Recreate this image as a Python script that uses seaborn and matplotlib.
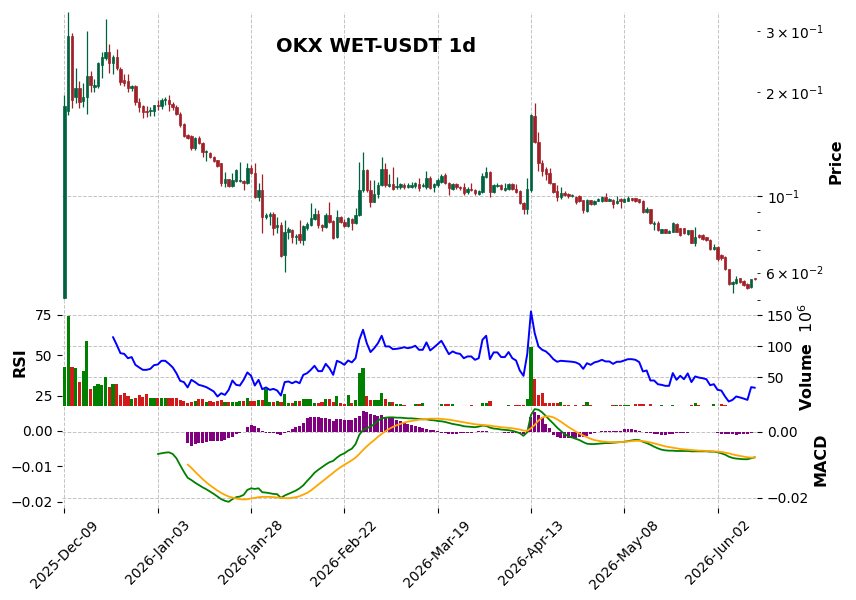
import numpy as np
import pandas as pd
import seaborn as sns
import matplotlib
matplotlib.use('Agg')
import matplotlib.pyplot as plt

# values (price in USDT, volume in millions)
first_day = '2025-12-09'

opens = [
    0.0507, 0.176, 0.290, 0.194, 0.206, 0.188, 0.194, 0.223, 0.207, 0.208,
    0.239, 0.251, 0.261, 0.242, 0.252, 0.233, 0.216, 0.215, 0.205, 0.208,
    0.187, 0.182, 0.176, 0.176, 0.176, 0.183, 0.182, 0.190, 0.190, 0.185,
    0.181, 0.1727, 0.1616, 0.1498, 0.1492, 0.1374, 0.1475, 0.1427, 0.1344, 0.1335,
    0.1300, 0.1271, 0.1243, 0.1088, 0.1117, 0.1069, 0.1108, 0.1108, 0.1108, 0.1088,
    0.1202, 0.1163, 0.0993, 0.1040, 0.0869, 0.0875, 0.0887, 0.0812, 0.0825, 0.0673,
    0.0786, 0.0800, 0.0762, 0.0776, 0.0746, 0.0808, 0.0825, 0.0860, 0.0890, 0.0826,
    0.0813, 0.0880, 0.0845, 0.0761, 0.0869, 0.0841, 0.0820, 0.0858, 0.0835, 0.0879,
    0.1040, 0.1189, 0.1041, 0.0963, 0.1013, 0.1076, 0.1195, 0.1069, 0.1083, 0.1059,
    0.1059, 0.1076, 0.1064, 0.1059, 0.1069, 0.1083, 0.1069, 0.1064, 0.1125, 0.1059,
    0.1076, 0.1100, 0.1150, 0.1093, 0.1050, 0.1083, 0.1064, 0.1059, 0.1029, 0.1045,
    0.1041, 0.1013, 0.1029, 0.1137, 0.1173, 0.1029, 0.1069, 0.1076, 0.1041, 0.1045,
    0.1083, 0.1047, 0.1036, 0.0956, 0.0915, 0.1041, 0.1704, 0.1436, 0.1243, 0.1195,
    0.1163, 0.1088, 0.1036, 0.0991, 0.1022, 0.1013, 0.1000, 0.0996, 0.1000, 0.0974,
    0.0907, 0.0974, 0.0948, 0.0969, 0.0965, 0.0991, 0.0969, 0.0974, 0.0952, 0.0978,
    0.0963, 0.0969, 0.0987, 0.0987, 0.0978, 0.0969, 0.0901, 0.0915, 0.0830, 0.0837,
    0.0783, 0.0801, 0.0783, 0.0788, 0.0830, 0.0806, 0.0806, 0.0776, 0.0797, 0.0733,
    0.0771, 0.0771, 0.0759, 0.0746, 0.0701, 0.0714, 0.0675, 0.0668, 0.0613, 0.0556,
    0.0561, 0.0578, 0.0568, 0.0558, 0.0544, 0.0578,
]
highs = [
    0.196, 0.340, 0.297, 0.235, 0.215, 0.213, 0.300, 0.230, 0.218, 0.245,
    0.262, 0.325, 0.275, 0.256, 0.266, 0.236, 0.225, 0.225, 0.210, 0.209,
    0.192, 0.184, 0.182, 0.181, 0.184, 0.190, 0.192, 0.193, 0.196, 0.187,
    0.183, 0.175, 0.163, 0.151, 0.150, 0.148, 0.149, 0.143, 0.136, 0.1345,
    0.1305, 0.1275, 0.1250, 0.1176, 0.1120, 0.1168, 0.1195, 0.1257, 0.1112, 0.1243,
    0.1229, 0.1246, 0.1090, 0.1158, 0.0895, 0.0899, 0.0899, 0.0869, 0.0840, 0.0852,
    0.0811, 0.0805, 0.0775, 0.0852, 0.0825, 0.0841, 0.0954, 0.0925, 0.0911, 0.0830,
    0.0892, 0.0960, 0.0850, 0.0911, 0.0875, 0.0858, 0.0870, 0.0862, 0.0925, 0.1254,
    0.1338, 0.1200, 0.1114, 0.1112, 0.1100, 0.1294, 0.1250, 0.1158, 0.1216, 0.1137,
    0.1090, 0.1093, 0.1090, 0.1100, 0.1100, 0.1130, 0.1090, 0.1184, 0.1140, 0.1090,
    0.1125, 0.1158, 0.1167, 0.1100, 0.1090, 0.1090, 0.1070, 0.1088, 0.1060, 0.1088,
    0.1050, 0.1040, 0.1167, 0.1210, 0.1180, 0.1080, 0.1093, 0.1080, 0.1088, 0.1090,
    0.1090, 0.1080, 0.1040, 0.0960, 0.1125, 0.1727, 0.1854, 0.1528, 0.1271, 0.1210,
    0.1202, 0.1090, 0.1076, 0.1059, 0.1036, 0.1020, 0.1015, 0.1000, 0.1005, 0.0976,
    0.0978, 0.0976, 0.0972, 0.0985, 0.1000, 0.1022, 0.0985, 0.0978, 0.1000, 0.0985,
    0.0985, 0.1000, 0.0990, 0.0990, 0.0980, 0.0972, 0.0927, 0.0918, 0.0845, 0.0845,
    0.0805, 0.0805, 0.0797, 0.0840, 0.0834, 0.0810, 0.0810, 0.0800, 0.0800, 0.0815,
    0.0775, 0.0776, 0.0762, 0.0749, 0.0726, 0.0717, 0.0678, 0.0672, 0.0616, 0.0568,
    0.0587, 0.0580, 0.0570, 0.0560, 0.0576, 0.0580,
]
lows = [
    0.0507, 0.172, 0.180, 0.186, 0.180, 0.181, 0.173, 0.200, 0.200, 0.205,
    0.220, 0.248, 0.227, 0.226, 0.232, 0.210, 0.208, 0.200, 0.201, 0.184,
    0.175, 0.168, 0.169, 0.170, 0.171, 0.178, 0.179, 0.184, 0.176, 0.178,
    0.172, 0.158, 0.148, 0.146, 0.136, 0.136, 0.141, 0.130, 0.1266, 0.129,
    0.1255, 0.1215, 0.1069, 0.1059, 0.1064, 0.1064, 0.1100, 0.1095, 0.1041, 0.1085,
    0.1155, 0.0985, 0.0970, 0.0780, 0.0860, 0.0825, 0.0771, 0.0781, 0.0665, 0.0603,
    0.0750, 0.0731, 0.0725, 0.0731, 0.0722, 0.0797, 0.0820, 0.0855, 0.0808, 0.0792,
    0.0808, 0.0835, 0.0750, 0.0755, 0.0835, 0.0815, 0.0815, 0.0797, 0.0830, 0.0875,
    0.1030, 0.1030, 0.0927, 0.0960, 0.0990, 0.1070, 0.1060, 0.1059, 0.1040, 0.1050,
    0.1050, 0.1050, 0.1055, 0.1055, 0.1055, 0.1036, 0.1060, 0.1050, 0.1050, 0.1029,
    0.1060, 0.1090, 0.1080, 0.1010, 0.1040, 0.1050, 0.1040, 0.1010, 0.1013, 0.1035,
    0.1010, 0.1005, 0.1020, 0.1130, 0.0991, 0.1020, 0.1060, 0.1040, 0.1035, 0.1040,
    0.1040, 0.1020, 0.0950, 0.0887, 0.0887, 0.1030, 0.1420, 0.1184, 0.1143, 0.1112,
    0.1080, 0.1020, 0.0967, 0.0980, 0.1000, 0.0985, 0.0995, 0.0950, 0.0960, 0.0891,
    0.0900, 0.0940, 0.0945, 0.0965, 0.0960, 0.0965, 0.0965, 0.0921, 0.0948, 0.0921,
    0.0960, 0.0965, 0.0970, 0.0960, 0.0955, 0.0891, 0.0895, 0.0830, 0.0797, 0.0790,
    0.0780, 0.0780, 0.0780, 0.0785, 0.0785, 0.0768, 0.0776, 0.0770, 0.0730, 0.0717,
    0.0755, 0.0745, 0.0742, 0.0697, 0.0697, 0.0650, 0.0655, 0.0610, 0.0553, 0.0523,
    0.0558, 0.0560, 0.0550, 0.0538, 0.0540, 0.0570,
]
closes = [
    0.182, 0.290, 0.190, 0.206, 0.187, 0.194, 0.222, 0.209, 0.209, 0.242,
    0.253, 0.261, 0.242, 0.252, 0.234, 0.214, 0.212, 0.205, 0.208, 0.187,
    0.181, 0.175, 0.1755, 0.178, 0.183, 0.1825, 0.190, 0.1905, 0.185, 0.181,
    0.173, 0.1606, 0.1492, 0.1475, 0.1374, 0.1469, 0.1420, 0.1344, 0.1350, 0.1294,
    0.1266, 0.1221, 0.1088, 0.1117, 0.1069, 0.1112, 0.1189, 0.1112, 0.1093, 0.1202,
    0.1163, 0.0996, 0.1040, 0.0869, 0.0880, 0.0887, 0.0808, 0.0825, 0.0670, 0.0786,
    0.0802, 0.0761, 0.0768, 0.0746, 0.0819, 0.0830, 0.0864, 0.0890, 0.0825, 0.0813,
    0.0880, 0.0841, 0.0756, 0.0869, 0.0841, 0.0819, 0.0864, 0.0835, 0.0879, 0.1040,
    0.1189, 0.1041, 0.0963, 0.1013, 0.1076, 0.1195, 0.1076, 0.1083, 0.1045, 0.1069,
    0.1083, 0.1064, 0.1076, 0.1076, 0.1088, 0.1052, 0.1076, 0.1125, 0.1057, 0.1083,
    0.1112, 0.1143, 0.1093, 0.1052, 0.1083, 0.1059, 0.1052, 0.1022, 0.1047, 0.1041,
    0.1018, 0.1036, 0.1143, 0.1173, 0.1029, 0.1073, 0.1076, 0.1045, 0.1052, 0.1083,
    0.1045, 0.1029, 0.0956, 0.0915, 0.1047, 0.1716, 0.1436, 0.1243, 0.1184, 0.1158,
    0.1088, 0.1029, 0.0996, 0.1022, 0.1007, 0.1002, 0.1007, 0.0963, 0.0969, 0.0911,
    0.0974, 0.0948, 0.0969, 0.0982, 0.0996, 0.0969, 0.0978, 0.0948, 0.0969, 0.0969,
    0.0982, 0.0989, 0.0974, 0.0969, 0.0963, 0.0901, 0.0915, 0.0834, 0.0837, 0.0797,
    0.0801, 0.0783, 0.0793, 0.0837, 0.0788, 0.0771, 0.0780, 0.0797, 0.0733, 0.0759,
    0.0759, 0.0749, 0.0746, 0.0701, 0.0714, 0.0656, 0.0660, 0.0613, 0.0556, 0.0565,
    0.0574, 0.0565, 0.0553, 0.0541, 0.0574, 0.0574,
]
volumes = [
    65.6, 148, 65.6, 64, 42.4, 60, 108, 30.6, 35.5, 38.7,
    37, 50.5, 33.3, 38.7, 38.7, 21, 24.7, 19.4, 15, 16,
    21, 18.5, 22.6, 16, 16, 16, 16, 16, 16, 15.5,
    15.5, 12.9, 11.3, 8.6, 10.2, 11.3, 15, 15, 10.2, 11.3,
    10.2, 11.3, 12.9, 10.2, 10.2, 10.2, 10.2, 12, 11.3, 16.1,
    11.3, 12, 12.9, 12.9, 30, 10.2, 10.2, 12, 10.2, 22,
    7.5, 7.5, 12, 12, 15, 15, 15, 7.5, 7.5, 10.2,
    15, 14, 10.2, 19.4, 7.5, 6.5, 21, 7.5, 13, 57,
    64, 19.4, 12.9, 12.9, 12.9, 23.7, 14, 9.5, 9.5, 6.5,
    5.9, 4.8, 4, 2, 6, 6, 7.5, 2, 2, 2,
    2, 6, 6, 6, 6, 2, 2, 2, 2, 5,
    2, 2, 7.5, 7.5, 11.3, 2, 2, 2, 2, 5,
    2, 5.5, 5.5, 5.5, 14.5, 98, 46, 21, 23.7, 8.6,
    7.5, 8.6, 7.5, 9, 5.5, 5.5, 2, 5, 2, 5,
    9, 4.5, 2, 2, 4, 4, 2, 5, 5.5, 5.5,
    5.5, 5.5, 2, 7, 7, 7, 2, 6, 2, 2,
    5, 2, 2, 5, 2, 2, 2, 2, 5, 7.5,
    5, 2, 2, 2, 6, 2, 6, 5, 2, 2,
    2, 2, 2, 2, 2, 2,
]

rsi_from = 13
rsi = [
    61.3, 56.5, 51.3, 50.9, 48.2, 48.9, 44.1, 42.5, 41.0, 41.0,
    41.6, 43.9, 44.3, 46.6, 46.6, 44.7, 42.5, 38.9, 34.2, 33.4,
    30.1, 34.8, 33.4, 31.7, 31.1, 30.3, 29.0, 27.6, 24.5, 26.5,
    25.5, 28.6, 34.4, 31.7, 31.3, 34.8, 39.4, 37.3, 31.3, 34.8,
    29.0, 30.1, 28.6, 29.2, 28.2, 25.1, 33.4, 33.8, 32.7, 33.8,
    32.7, 37.9, 38.9, 41.0, 43.5, 40.2, 40.2, 44.7, 42.0, 37.9,
    46.6, 45.6, 44.1, 46.8, 45.6, 48.2, 59.6, 65.8, 57.5, 52.0,
    54.4, 57.5, 62.1, 55.5, 55.5, 53.8, 54.0, 54.4, 55.0, 54.4,
    54.9, 55.9, 53.4, 53.4, 58.0, 53.0, 54.9, 56.9, 59.0, 54.9,
    50.7, 52.4, 51.3, 50.9, 48.2, 49.3, 49.3, 47.2, 48.2, 59.6,
    62.1, 47.6, 51.8, 51.8, 48.9, 48.9, 52.0, 48.2, 46.8, 40.6,
    37.3, 50.7, 77.2, 63.7, 55.5, 53.4, 52.4, 50.3, 47.6, 46.0,
    46.6, 46.4, 46.2, 46.0, 45.6, 44.5, 41.6, 45.1, 44.1, 45.6,
    46.2, 47.2, 46.2, 46.2, 44.7, 46.0, 46.0, 46.8, 47.6, 47.6,
    47.2, 45.8, 40.0, 40.6, 34.4, 34.4, 32.1, 31.7, 31.1, 31.1,
    39.0, 34.8, 37.3, 35.2, 38.8, 33.4, 36.9, 36.2, 35.8, 35.2,
    31.5, 32.1, 28.6, 28.2, 24.5, 21.4, 22.4, 24.5, 23.9, 23.2,
    22.4, 30.3, 29.9,
]

macd_from = 25
macd = [
    -0.0068, -0.0066, -0.0064, -0.0063, -0.0068, -0.0081, -0.0102, -0.0122, -0.0140, -0.0147,
    -0.0155, -0.0162, -0.0169, -0.0175, -0.0182, -0.0189, -0.0197, -0.0205, -0.0210, -0.0213,
    -0.0205, -0.0199, -0.0197, -0.0192, -0.0177, -0.0172, -0.0174, -0.0172, -0.0184, -0.0185,
    -0.0187, -0.0189, -0.0190, -0.0201, -0.0194, -0.0189, -0.0184, -0.0179, -0.0172, -0.0163,
    -0.0150, -0.0138, -0.0125, -0.0116, -0.0108, -0.0100, -0.0093, -0.0089, -0.0079, -0.0071,
    -0.0066, -0.0058, -0.0052, -0.0038, -0.0010, 0.0005, 0.0010, 0.0015, 0.0022, 0.0033,
    0.0040, 0.0042, 0.0043, 0.0043, 0.0042, 0.0042, 0.0041, 0.0040, 0.0040, 0.0039,
    0.0038, 0.0037, 0.0037, 0.0035, 0.0034, 0.0032, 0.0031, 0.0029, 0.0026, 0.0023,
    0.0021, 0.0019, 0.0016, 0.0015, 0.0014, 0.0013, 0.0015, 0.0018, 0.0017, 0.0012,
    0.0009, 0.0008, 0.0006, 0.0005, 0.0004, 0.0002, -0.0001, -0.0005, -0.0013, -0.0002,
    0.0050, 0.0068, 0.0066, 0.0058, 0.0047, 0.0035, 0.0024, 0.0012, 0.0002, -0.0008,
    -0.0014, -0.0018, -0.0022, -0.0026, -0.0032, -0.0037, -0.0038, -0.0038, -0.0037, -0.0036,
    -0.0035, -0.0035, -0.0034, -0.0033, -0.0032, -0.0031, -0.0029, -0.0027, -0.0025, -0.0026,
    -0.0031, -0.0035, -0.0040, -0.0046, -0.0051, -0.0055, -0.0057, -0.0058, -0.0058, -0.0059,
    -0.0059, -0.0059, -0.0059, -0.0060, -0.0060, -0.0060, -0.0060, -0.0060, -0.0061, -0.0061,
    -0.0063, -0.0066, -0.0070, -0.0076, -0.0080, -0.0082, -0.0083, -0.0084, -0.0084, -0.0081,
    -0.0078,
]

signal_from = 33
signal = [
    -0.0100, -0.0110, -0.0122, -0.0133, -0.0144, -0.0154, -0.0163, -0.0171, -0.0179, -0.0186,
    -0.0192, -0.0197, -0.0200, -0.0203, -0.0205, -0.0206, -0.0205, -0.0203, -0.0201, -0.0199,
    -0.0198, -0.0198, -0.0198, -0.0199, -0.0200, -0.0201, -0.0202, -0.0202, -0.0201, -0.0199,
    -0.0196, -0.0191, -0.0186, -0.0179, -0.0170, -0.0161, -0.0152, -0.0143, -0.0134, -0.0125,
    -0.0116, -0.0108, -0.0101, -0.0094, -0.0087, -0.0079, -0.0068, -0.0056, -0.0045, -0.0035,
    -0.0026, -0.0016, -0.0007, 0.0001, 0.0008, 0.0014, 0.0019, 0.0023, 0.0027, 0.0030,
    0.0032, 0.0034, 0.0036, 0.0037, 0.0038, 0.0039, 0.0039, 0.0039, 0.0038, 0.0037,
    0.0036, 0.0034, 0.0032, 0.0030, 0.0028, 0.0026, 0.0024, 0.0022, 0.0021, 0.0020,
    0.0019, 0.0018, 0.0016, 0.0015, 0.0013, 0.0012, 0.0011, 0.0010, 0.0008, 0.0006,
    0.0003, 0.0002, 0.0010, 0.0020, 0.0033, 0.0042, 0.0046, 0.0046, 0.0043, 0.0037,
    0.0030, 0.0022, 0.0014, 0.0007, 0.0000, -0.0006, -0.0012, -0.0017, -0.0022, -0.0026,
    -0.0028, -0.0030, -0.0031, -0.0032, -0.0032, -0.0032, -0.0032, -0.0031, -0.0030, -0.0029,
    -0.0028, -0.0028, -0.0029, -0.0031, -0.0033, -0.0036, -0.0039, -0.0042, -0.0045, -0.0047,
    -0.0049, -0.0051, -0.0053, -0.0054, -0.0055, -0.0056, -0.0057, -0.0058, -0.0058, -0.0059,
    -0.0059, -0.0060, -0.0061, -0.0062, -0.0064, -0.0066, -0.0069, -0.0072, -0.0074, -0.0076,
    -0.0078, -0.0079, -0.0079,
]
hist = [
    -0.0034, -0.0044, -0.0038, -0.0036, -0.0034, -0.0031, -0.0029, -0.0028, -0.0029, -0.0029,
    -0.0026, -0.0021, -0.0018, -0.0009, -0.0004, -0.0001, 0.0015, 0.0020, 0.0017, 0.0010,
    0.0003, -0.0003, -0.0004, -0.0004, -0.0006, -0.0011, -0.0004, 0.0003, 0.0007, 0.0013,
    0.0018, 0.0027, 0.0040, 0.0043, 0.0043, 0.0045, 0.0042, 0.0040, 0.0037, 0.0033,
    0.0038, 0.0037, 0.0035, 0.0035, 0.0035, 0.0040, 0.0047, 0.0062, 0.0060, 0.0052,
    0.0050, 0.0047, 0.0050, 0.0045, 0.0043, 0.0040, 0.0036, 0.0031, 0.0027, 0.0023,
    0.0019, 0.0016, 0.0013, 0.0010, 0.0008, 0.0006, 0.0004, 0.0003, -0.0003, -0.0005,
    -0.0006, -0.0006, -0.0006, -0.0005, -0.0005, -0.0004, -0.0003, -0.0002, 0.0001, 0.0003,
    0.0002, -0.0001, -0.0002, -0.0002, -0.0002, -0.0003, -0.0003, -0.0003, -0.0004, -0.0004,
    -0.0006, 0.0002, 0.0045, 0.0058, 0.0050, 0.0043, 0.0023, 0.0010, -0.0011, -0.0016,
    -0.0019, -0.0021, -0.0021, -0.0021, -0.0019, -0.0016, -0.0018, -0.0014, -0.0006, -0.0003,
    -0.0001, 0.0001, 0.0001, 0.0001, 0.0001, 0.0001, 0.0001, 0.0007, 0.0008, 0.0008,
    0.0005, 0.0001, -0.0002, -0.0003, -0.0004, -0.0008, -0.0009, -0.0010, -0.0010, -0.0009,
    -0.0006, -0.0003, -0.0003, -0.0003, -0.0003, -0.0002, -0.0002, -0.0001, -0.0001, -0.0001,
    -0.0001, -0.0002, -0.0004, -0.0006, -0.0008, -0.0009, -0.0009, -0.0010, -0.0009, -0.0008,
    -0.0006, -0.0003, -0.0001,
]

# ---- style ----
sns.set_style('ticks')
plt.rcParams['font.family'] = ['DejaVu Sans']
plt.rcParams.update({
    'text.color': 'black', 'xtick.color': 'black', 'ytick.color': 'black',
    'xtick.labelsize': 10, 'ytick.labelsize': 10,
})
GRID = dict(linestyle='--', color='#c4c4c4', linewidth=0.7)

n = len(closes)
idx = np.arange(n)
days = pd.date_range(first_day, periods=n, freq='D')
o, h, l, c = map(np.array, (opens, highs, lows, closes))
up = c >= o
candle_col = np.where(up, '#006340', '#a02128')
vol_col = np.where(up, '#008000', '#d21a1a')

fig = plt.figure(figsize=(8.56, 6.0), dpi=100)
left, width = 0.0727, 0.8118
ax_price = fig.add_axes([left, 0.4983, width, 0.4825])
ax_vol = fig.add_axes([left, 0.3233, width, 0.175], sharex=ax_price)
ax_macd = fig.add_axes([left, 0.1533, width, 0.17], sharex=ax_price)
ax_rsi = ax_vol.twinx()
ax_macd_l = ax_macd.twinx()

# candles
ax_price.vlines(idx, l, h, colors=candle_col, linewidth=0.9)
body_lo = np.minimum(o, c)
ax_price.bar(idx, np.maximum(o, c) - body_lo, bottom=body_lo, width=0.65,
             color=candle_col, edgecolor=candle_col, linewidth=0.5)
ax_price.set_yscale('log')
ax_price.set_ylim(0.04967, 0.342)
ax_price.yaxis.tick_right()
ax_price.grid(True, which='major', **GRID)

# volume + RSI
ax_vol.bar(idx, volumes, width=0.85, color=vol_col, linewidth=0)
ax_vol.set_ylim(3.2, 172.6)
ax_vol.set_yticks([50, 100, 150])
ax_vol.yaxis.tick_right()
ax_vol.grid(True, **GRID)

sns.lineplot(x=idx[rsi_from:], y=rsi, ax=ax_rsi, color='#0000ff',
             linewidth=1.4, legend=False)
ax_rsi.set_ylim(18.6, 83.6)
ax_rsi.set_yticks([25, 50, 75])
ax_rsi.yaxis.tick_left()
ax_rsi.grid(False)

# MACD
ax_macd.bar(idx[signal_from:], hist, width=0.8, color='purple', linewidth=0)
sns.lineplot(x=idx[macd_from:], y=macd, ax=ax_macd, color='green',
             linewidth=1.3, legend=False)
sns.lineplot(x=idx[signal_from:], y=signal, ax=ax_macd, color='orange',
             linewidth=1.3, legend=False)
ax_macd.set_ylim(-0.02318, 0.00773)
ax_macd.set_yticks([0, -0.02])
ax_macd.set_yticklabels(['0.00', '\u22120.02'])
ax_macd.yaxis.tick_right()
ax_macd.grid(True, **GRID)

ax_macd_l.set_ylim(-0.02177, 0.00696)
ax_macd_l.set_yticks([0, -0.01, -0.02])
ax_macd_l.set_yticklabels(['0.00', '\u22120.01', '\u22120.02'])
ax_macd_l.yaxis.tick_left()
ax_macd_l.grid(False)

# x axis
ax_macd.set_xticks(idx[::25])
ax_macd.set_xticklabels([d.strftime('%Y-%b-%d') for d in days[::25]],
                        rotation=45, ha='center')
for ax in (ax_price, ax_vol):
    ax.tick_params(axis='x', bottom=False, labelbottom=False)
ax_price.set_xlim(-0.6, n - 0.4)

for ax in (ax_price, ax_vol, ax_rsi, ax_macd, ax_macd_l):
    ax.set_xlabel('')
    ax.set_ylabel('')
    for s in ax.spines.values():
        s.set_visible(False)

# labels and title
lab = dict(fontsize=11.5, fontweight='bold', rotation=90, ha='center', va='center')
fig.text(836.5 / 856, 1 - 161 / 600, 'Price', **lab)
fig.text(807 / 856, 1 - 357 / 600, 'Volume  $10^{6}$', **lab)
fig.text(821 / 856, 1 - 459 / 600, 'MACD', **lab)
fig.text(20 / 856, 1 - 362 / 600, 'RSI', **lab)
fig.text(376.5 / 856, 1 - 47 / 600, 'OKX WET-USDT 1d', fontsize=14,
         fontweight='bold', ha='center', va='center')

fig.savefig('out.png', dpi=100)
